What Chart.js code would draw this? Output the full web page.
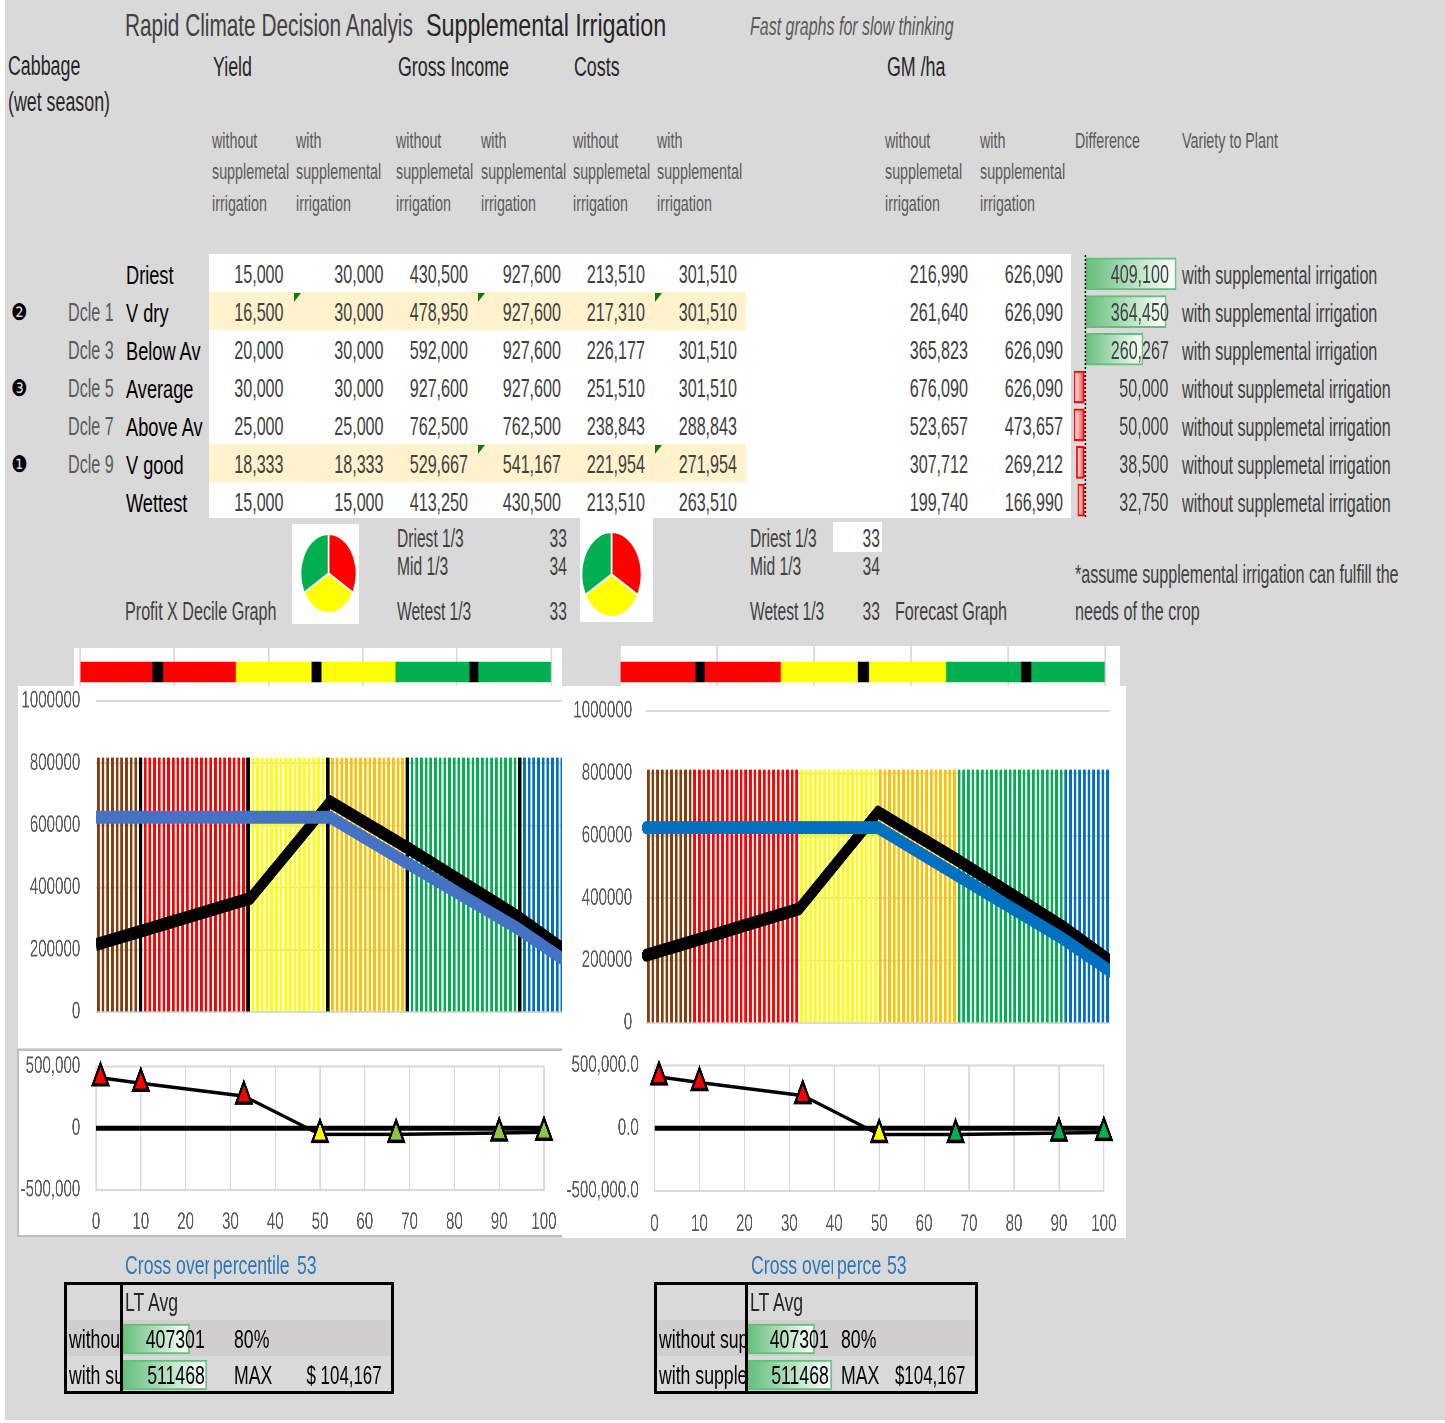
<!DOCTYPE html>
<html>
<head>
<meta charset="utf-8">
<title>Rapid Climate Decision Analysis</title>
<script src="https://cdn.jsdelivr.net/npm/chart.js@4"></script>
<style>
html, body { margin: 0; padding: 0; background: #fff; overflow: hidden; }
#sheet { position: absolute; left: 5px; top: 0; width: 1440px; height: 1420px; background: #d9d9d9; }
#page { position: absolute; left: 0; top: 0; width: 1445px; height: 1423px; overflow: hidden; font-family: "Liberation Sans Narrow", "Liberation Sans", sans-serif; }
.t { position: absolute; white-space: nowrap; line-height: 1; }
.box { position: absolute; }
canvas { position: absolute; transform-origin: 0 0; }
</style>
</head>
<body>
<div id="page"><div id="sheet"></div></div>
<script>
// table
const rowNames = ['Driest', 'V dry', 'Below Av', 'Average', 'Above Av', 'V good', 'Wettest'];
const decileNames = ['', 'Dcle 1', 'Dcle 3', 'Dcle 5', 'Dcle 7', 'Dcle 9', ''];
const yieldWithout = [15000, 16500, 20000, 30000, 25000, 18333, 15000];
const yieldWith = [30000, 30000, 30000, 30000, 25000, 18333, 15000];
const incomeWithout = [430500, 478950, 592000, 927600, 762500, 529667, 413250];
const incomeWith = [927600, 927600, 927600, 927600, 762500, 541167, 430500];
const costsWithout = [213510, 217310, 226177, 251510, 238843, 221954, 213510];
const costsWith = [301510, 301510, 301510, 301510, 288843, 271954, 263510];
const gmWithout = [216990, 261640, 365823, 676090, 523657, 307712, 199740];
const gmWith = [626090, 626090, 626090, 626090, 473657, 269212, 166990];
const difference = [409100, 364450, 260267, -50000, -50000, -38500, -32750];
const plantChoice = ['with supplemental irrigation', 'with supplemental irrigation', 'with supplemental irrigation', 'without supplemetal irrigation', 'without supplemetal irrigation', 'without supplemetal irrigation', 'without supplemetal irrigation'];

// line charts
const linePercentiles = [0, 10, 33, 50, 67, 90, 100];
const diffPercentiles = [1, 10, 33, 50, 67, 90, 100];
const zeroLine = [0, 0];
const zeroPercentiles = [0, 100];

// stripes behind the GM lines
const percentiles = [
  1, 2, 3, 4, 5, 6, 7, 8, 9, 10,
  11, 12, 13, 14, 15, 16, 17, 18, 19, 20,
  21, 22, 23, 24, 25, 26, 27, 28, 29, 30,
  31, 32, 33, 34, 35, 36, 37, 38, 39, 40,
  41, 42, 43, 44, 45, 46, 47, 48, 49, 50,
  51, 52, 53, 54, 55, 56, 57, 58, 59, 60,
  61, 62, 63, 64, 65, 66, 67, 68, 69, 70,
  71, 72, 73, 74, 75, 76, 77, 78, 79, 80,
  81, 82, 83, 84, 85, 86, 87, 88, 89, 90,
  91, 92, 93, 94, 95, 96, 97, 98, 99, 100
];
const stripeTopLeft = [
  817000, 817000, 817000, 817000, 817000, 817000, 817000, 817000, 817000, 817000,
  817000, 817000, 817000, 817000, 817000, 817000, 817000, 817000, 817000, 817000,
  817000, 817000, 817000, 817000, 817000, 817000, 817000, 817000, 817000, 817000,
  817000, 817000, 817000, 817000, 817000, 817000, 817000, 817000, 817000, 817000,
  817000, 817000, 817000, 817000, 817000, 817000, 817000, 817000, 817000, 817000,
  817000, 817000, 817000, 817000, 817000, 817000, 817000, 817000, 817000, 817000,
  817000, 817000, 817000, 817000, 817000, 817000, 817000, 817000, 817000, 817000,
  817000, 817000, 817000, 817000, 817000, 817000, 817000, 817000, 817000, 817000,
  817000, 817000, 817000, 817000, 817000, 817000, 817000, 817000, 817000, 817000,
  817000, 817000, 817000, 817000, 817000, 817000, 817000, 817000, 817000, 817000
];
const stripeTopRight = [
  811000, 811000, 811000, 811000, 811000, 811000, 811000, 811000, 811000, 811000,
  811000, 811000, 811000, 811000, 811000, 811000, 811000, 811000, 811000, 811000,
  811000, 811000, 811000, 811000, 811000, 811000, 811000, 811000, 811000, 811000,
  811000, 811000, 811000, 811000, 811000, 811000, 811000, 811000, 811000, 811000,
  811000, 811000, 811000, 811000, 811000, 811000, 811000, 811000, 811000, 811000,
  811000, 811000, 811000, 811000, 811000, 811000, 811000, 811000, 811000, 811000,
  811000, 811000, 811000, 811000, 811000, 811000, 811000, 811000, 811000, 811000,
  811000, 811000, 811000, 811000, 811000, 811000, 811000, 811000, 811000, 811000,
  811000, 811000, 811000, 811000, 811000, 811000, 811000, 811000, 811000, 811000,
  811000, 811000, 811000, 811000, 811000, 811000, 811000, 811000, 811000, 811000
];
const blackStripes = [10, 33, 50, 67, 91];
const bandEnds = [10, 33, 50, 67, 90, 100];
const bandColors = ['#843c0c', '#ff0000', '#ffff00', '#ffc000', '#00b050', '#0070c0'];

// tercile strips and pies
const stripColors = ['#ff0000', '#000000', '#ff0000', '#ffff00', '#000000', '#ffff00', '#00b050', '#000000', '#00b050'];
const stripLeft = [15.3, 2.3, 15.4, 16.1, 2.1, 15.7, 15.7, 1.9, 15.4];
const stripRight = [15.5, 1.9, 15.7, 15.9, 2.3, 15.9, 15.5, 2.1, 15.4];
const tercileNames = ['Driest 1/3', 'Mid 1/3', 'Wetest 1/3'];
const terciles = [33, 34, 33];
const pieColors = ['#ff0000', '#ffff00', '#00b050'];

// LT average
const ltAvg = [407301, 511468];

const page = document.getElementById('page');
const TS = 0.62;   // squeeze of the sheet text
const CS = 0.63;   // squeeze of the chart canvases
const fmt = v => Math.abs(v).toLocaleString('en-US');

function txt(x, y, str, o = {}) {
  const el = document.createElement('div');
  el.className = 't';
  el.textContent = str;
  el.style.fontSize = (o.size || 26) + 'px';
  el.style.color = o.color || '#404040';
  if (o.italic) el.style.fontStyle = 'italic';
  if (o.font) el.style.fontFamily = o.font;
  el.style.top = y + 'px';
  const s = o.s || TS;
  if (o.right) {
    el.style.right = (1445 - x) + 'px';
    el.style.transformOrigin = '100% 0';
  } else {
    el.style.left = x + 'px';
    el.style.transformOrigin = '0 0';
  }
  el.style.transform = `scaleX(${s}) translateY(-50%)`;
  if (o.clip) {
    const wrap = document.createElement('div');
    wrap.style.cssText = `position:absolute;overflow:hidden;left:${x}px;top:${y - 30}px;width:${o.clip}px;height:60px`;
    el.style.left = '0';
    el.style.top = '30px';
    wrap.appendChild(el);
    page.appendChild(wrap);
  } else {
    page.appendChild(el);
  }
}

function box(x, y, w, h, color, extra) {
  const el = document.createElement('div');
  el.className = 'box';
  el.style.cssText = `left:${x}px;top:${y}px;width:${w}px;height:${h}px;background:${color};${extra || ''}`;
  page.appendChild(el);
}

function cv(x, y, w, h, s = CS) {
  const c = document.createElement('canvas');
  c.width = Math.round(w / s);
  c.height = h;
  c.style.left = x + 'px';
  c.style.top = y + 'px';
  c.style.transform = `scaleX(${s})`;
  page.appendChild(c);
  return c;
}

function corner(x, y) {
  box(x, y, 7, 9, '#0b7a0b', 'clip-path:polygon(0 0,100% 0,0 100%)');
}

Chart.defaults.animation = false;
Chart.defaults.responsive = false;
Chart.defaults.events = [];
Chart.defaults.plugins.legend.display = false;
Chart.defaults.plugins.tooltip.enabled = false;
Chart.defaults.font.family = '"Liberation Sans Narrow", "Liberation Sans", sans-serif';

const yAxisFit = w => scale => { scale.width = w; scale.paddingTop = 0; scale.paddingBottom = 0; };
const xAxisFit = h => scale => { scale.height = h; scale.paddingLeft = 0; scale.paddingRight = 0; };
const bandOf = p => bandColors[bandEnds.findIndex(e => p <= e)];
const tickFont = { size: 24 };
const tickColor = '#595959';
const gridColor = '#d9d9d9';

// colour strip above each GM chart
function tercileStrip(c, values, padL, padR) {
  new Chart(c, {
    type: 'bar',
    data: {
      labels: ['strip'],
      datasets: values.map((v, i) => ({ data: [v], backgroundColor: stripColors[i], barThickness: 20 }))
    },
    options: {
      indexAxis: 'y',
      layout: { padding: { left: padL, right: padR } },
      scales: {
        x: { stacked: true, min: 0, max: 100, ticks: { display: false, stepSize: 20 }, grid: { color: gridColor, lineWidth: 2, drawTicks: false }, border: { display: false } },
        y: { stacked: true, display: false }
      }
    }
  });
}

// GM chart with coloured percentile stripes
function gmChart(c, cfg) {
  const datasets = [];
  datasets.push({
    type: 'line', xAxisID: 'xLine', order: 1, label: 'with supplemental irrigation',
    data: linePercentiles.map((p, i) => ({ x: p, y: gmWith[i] })),
    borderColor: cfg.blue, borderWidth: 13, pointRadius: 0, tension: 0,
    borderCapStyle: cfg.cap, borderJoinStyle: 'round', clip: cfg.clip
  });
  datasets.push({
    type: 'line', xAxisID: 'xLine', order: 2, label: 'without supplemental irrigation',
    data: linePercentiles.map((p, i) => ({ x: p, y: gmWithout[i] })),
    borderColor: '#000', borderWidth: 13, pointRadius: 0, tension: 0,
    borderCapStyle: cfg.cap, borderJoinStyle: 'round', clip: cfg.clip
  });
  if (cfg.blackStripes) {
    datasets.push({
      type: 'bar', order: 3, grouped: false,
      data: percentiles.map((p, i) => blackStripes.includes(p) ? cfg.tops[i] : null),
      backgroundColor: '#000', barThickness: 5
    });
  }
  datasets.push({
    type: 'bar', order: 4, grouped: false,
    data: cfg.tops,
    backgroundColor: percentiles.map(bandOf), barThickness: 3.6
  });
  new Chart(c, {
    data: { labels: percentiles, datasets },
    options: {
      devicePixelRatio: 2,
      layout: { padding: { top: cfg.top, bottom: cfg.bottom, right: cfg.right } },
      scales: {
        x: { display: false },
        xLine: { type: 'linear', display: false, min: 0, max: 100 },
        y: {
          min: 0, max: 1000000, afterFit: yAxisFit(cfg.axis),
          ticks: { stepSize: 200000, color: tickColor, font: tickFont, padding: cfg.pad, callback: v => String(v) },
          grid: { color: gridColor, lineWidth: 2, drawTicks: false }, border: { display: false }
        }
      }
    }
  });
}

// difference chart under each GM chart
function diffChart(c, cfg) {
  const pts = difference.map((d, i) => ({ x: diffPercentiles[i], y: d }));
  const markerColors = difference.map((d, i) => i < 3 ? '#ff0000' : i === 3 ? '#ffff00' : cfg.green);
  new Chart(c, {
    type: 'scatter',
    data: {
      datasets: [
        {
          showLine: true, order: 1, clip: false, data: pts,
          borderColor: '#000', borderWidth: 3.5, tension: 0,
          pointStyle: 'triangle', pointRadius: 14, pointBorderWidth: 3.5,
          pointBackgroundColor: markerColors, pointBorderColor: '#000'
        },
        {
          showLine: true, order: 2, data: zeroPercentiles.map((p, i) => ({ x: p, y: zeroLine[i] })),
          borderColor: '#000', borderWidth: 5, pointRadius: 0
        }
      ]
    },
    options: {
      devicePixelRatio: 2,
      layout: { padding: { top: cfg.top, right: cfg.right } },
      scales: {
        x: {
          type: 'linear', min: 0, max: 100, afterFit: xAxisFit(cfg.bottom),
          ticks: { stepSize: 10, color: tickColor, font: tickFont, padding: cfg.xPad, maxRotation: 0 },
          grid: { color: gridColor, lineWidth: 2, drawTicks: false }, border: { color: gridColor, width: 2 }
        },
        y: {
          min: -500000, max: 500000, afterFit: yAxisFit(cfg.axis),
          ticks: { stepSize: 500000, color: tickColor, font: tickFont, padding: 25, callback: cfg.label },
          grid: { color: gridColor, lineWidth: 2, drawTicks: false }, border: { color: gridColor, width: 2 }
        }
      }
    }
  });
}

// Excel style data bars
function dataBars(c, labels, values, min, max, thickness, showZero) {
  new Chart(c, {
    type: 'bar',
    data: {
      labels,
      datasets: [{
        data: values,
        barThickness: thickness,
        borderWidth: 2,
        borderSkipped: false,
        borderColor: ctx => ctx.raw < 0 ? '#ff0000' : '#63be7b',
        backgroundColor: ctx => {
          const ch = ctx.chart;
          if (!ch.chartArea) return 'transparent';
          const xs = ch.scales.x;
          const g = ch.ctx.createLinearGradient(xs.getPixelForValue(0), 0, xs.getPixelForValue(ctx.raw), 0);
          g.addColorStop(0, ctx.raw < 0 ? '#ff3030' : '#63be7b');
          g.addColorStop(1, '#ffffff');
          return g;
        }
      }]
    },
    options: {
      indexAxis: 'y',
      scales: {
        x: {
          min, max,
          afterBuildTicks: scale => { scale.ticks = [{ value: 0 }]; },
          ticks: { display: false },
          grid: { display: showZero, z: 1, drawTicks: false, lineWidth: 2, color: '#000' },
          border: { display: false, dash: [2, 2] }
        },
        y: { display: false }
      }
    }
  });
}

function pie(c, rotation) {
  new Chart(c, {
    type: 'pie',
    data: { labels: tercileNames, datasets: [{ data: terciles, backgroundColor: pieColors, borderColor: '#fff', borderWidth: 2 }] },
    options: { rotation }
  });
}

// titles
txt(125, 25, 'Rapid Climate Decision Analyis', { size: 32, s: 0.65 });
txt(426, 25, 'Supplemental Irrigation', { size: 32, color: '#262626', s: 0.73 });
txt(750, 26, 'Fast graphs for slow thinking', { size: 25, italic: true, color: '#595959', s: 0.64 });
const bigHead = { size: 27, color: '#262626', s: 0.66 };
txt(8, 66, 'Cabbage', bigHead);
txt(8, 102, '(wet season)', bigHead);
[[213, 'Yield'], [398, 'Gross Income'], [574, 'Costs'], [887, 'GM /ha']].forEach(([x, s]) => txt(x, 67, s, bigHead));

const headGrey = { size: 22, color: '#595959', s: 0.65 };
[212, 396, 573, 885].forEach(x => {
  txt(x, 141, 'without', headGrey);
  txt(x, 172, 'supplemetal', headGrey);
  txt(x, 204, 'irrigation', headGrey);
});
[296, 481, 657, 980].forEach(x => {
  txt(x, 141, 'with', headGrey);
  txt(x, 172, 'supplemental', headGrey);
  txt(x, 204, 'irrigation', headGrey);
});
txt(1075, 141, 'Difference', headGrey);
txt(1182, 141, 'Variety to Plant', headGrey);

// table body
box(209, 254, 862, 264, '#fff');
box(209, 292, 537, 38, '#fff2cc');
box(209, 444, 537, 38, '#fff2cc');
[[294, 293], [478, 293], [655, 293], [478, 445], [655, 445]].forEach(([x, y]) => corner(x, y));

const columns = [[284, yieldWithout], [384, yieldWith], [468, incomeWithout], [561, incomeWith], [645, costsWithout], [737, costsWith], [968, gmWithout], [1063, gmWith]];
const rowY = i => 274 + i * 38;
columns.forEach(([x, vals]) => vals.forEach((v, i) => txt(x, rowY(i), fmt(v), { right: true })));
rowNames.forEach((n, i) => txt(126, rowY(i) + 1, n, { color: '#000', s: 0.7 }));
decileNames.forEach((n, i) => { if (n) txt(68, rowY(i), n, { color: '#595959' }); });
[['\u2777', 312], ['\u2778', 388], ['\u2776', 464]].forEach(([s, y]) => txt(11, y, s, { font: '"DejaVu Sans"', size: 23, color: '#000', s: 0.8 }));

dataBars(cv(1070, 255, 110, 264, 0.77), rowNames, difference, -67440, 427100, 32, true);
difference.forEach((v, i) => txt(1169, rowY(i), fmt(v), { right: true }));
plantChoice.forEach((s, i) => txt(1182, rowY(i) + 1, s));

// pies and tercile block
box(292, 524, 67, 100, '#fff');
box(580, 516, 73, 106, '#fff');
box(833, 522, 49, 30, '#fff');
pie(cv(300, 533, 57, 81, 57 / 81), 0);
pie(cv(581, 531, 61, 87, 61 / 87), 0);
[538, 566, 611].forEach((y, i) => {
  txt(397, y, tercileNames[i], { s: 0.6 });
  txt(567, y, String(terciles[i]), { right: true, s: 0.6 });
  txt(750, y, tercileNames[i], { s: 0.6 });
  txt(880, y, String(terciles[i]), { right: true, s: 0.6 });
});
const noteText = { size: 25, s: 0.645 };
txt(125, 611, 'Profit X Decile Graph', noteText);
txt(895, 611, 'Forecast Graph', noteText);
txt(1075, 574, '*assume supplemental irrigation can fulfill the', noteText);
txt(1075, 611, 'needs of the crop', noteText);

// strips
box(74, 648, 488, 38, '#fff');
tercileStrip(cv(74, 648, 488, 48, 0.77), stripLeft, 6 / 0.77, 11 / 0.77);
box(620, 646, 500, 40, '#fff');
tercileStrip(cv(620, 646, 500, 52, 0.77), stripRight, 0, 15 / 0.77);

// GM charts
box(18, 686, 546, 362, '#fff');
gmChart(cv(18, 683, 546, 365), { blue: '#4472c4', cap: 'butt', clip: undefined, tops: stripeTopLeft, blackStripes: true, top: 18, bottom: 36, right: 0, axis: 78 / CS, pad: 25 });
box(562, 686, 564, 362, '#fff');
gmChart(cv(562, 686, 564, 362), { blue: '#0070c0', cap: 'round', clip: { left: 14, top: false, right: 0, bottom: false }, tops: stripeTopRight, blackStripes: false, top: 25, bottom: 25, right: 16 / CS, axis: 84 / CS, pad: 22 });

// difference charts
box(17, 1049, 545, 188, '#fff', 'box-sizing:border-box;border:2px solid #bfbfbf;border-right:none');
diffChart(cv(17, 1049, 545, 188), { green: '#8cc63f', top: 15, bottom: 47, right: 18 / CS, axis: 79 / CS, xPad: 18, label: v => v.toLocaleString('en-US') });
box(562, 1048, 564, 190, '#fff');
diffChart(cv(562, 1048, 564, 190), {
  green: '#00b050', top: 12, bottom: 47, right: 22 / CS, axis: 92.5 / CS, xPad: 19,
  label: v => v.toLocaleString('en-US', { minimumFractionDigits: 1, maximumFractionDigits: 1 })
});

// LT average blocks
const blue = { size: 26, color: '#2e75b6', s: 0.68 };
txt(125, 1265, 'Cross over', { ...blue, clip: 84 });
txt(213, 1265, 'percentile', blue);
txt(297, 1265, '53', blue);
txt(751, 1265, 'Cross over', { ...blue, clip: 82 });
txt(837, 1265, 'perce', blue);
txt(887, 1265, '53', blue);

function ltBlock(cfg) {
  const black = { color: '#000', s: 0.68 };
  box(cfg.x + 2, 1320, cfg.w - 4, 36, '#d0cece');
  dataBars(cv(cfg.divider + 1, 1321, 130, 72, 0.77), ['without', 'with'], ltAvg, 0, 786000, 30, false);
  txt(cfg.x + 5, 1339, 'without supplemental irrigation', { ...black, clip: cfg.divider - cfg.x - 5 });
  txt(cfg.x + 5, 1375, 'with supplemental irrigation', { ...black, clip: cfg.divider - cfg.x - 5 });
  txt(cfg.divider + 4, 1302, 'LT Avg', { color: '#262626', s: 0.68 });
  ltAvg.forEach((v, i) => txt(cfg.numRight, 1339 + i * 36, String(v), { ...black, right: true }));
  txt(cfg.pct, 1339, '80%', black);
  txt(cfg.pct, 1375, 'MAX', black);
  txt(cfg.maxRight, 1375, cfg.maxText, { ...black, right: true, s: 0.65 });
  box(cfg.x, 1282, cfg.w, 112, 'transparent', 'box-sizing:border-box;border:3px solid #000');
  box(cfg.divider - 1, 1282, 3, 112, '#000');
}
ltBlock({ x: 64, w: 330, divider: 121, numRight: 205, pct: 234, maxRight: 382, maxText: '$ 104,167' });
ltBlock({ x: 654, w: 324, divider: 746, numRight: 829, pct: 841, maxRight: 965, maxText: '$104,167' });
</script>
</body>
</html>
